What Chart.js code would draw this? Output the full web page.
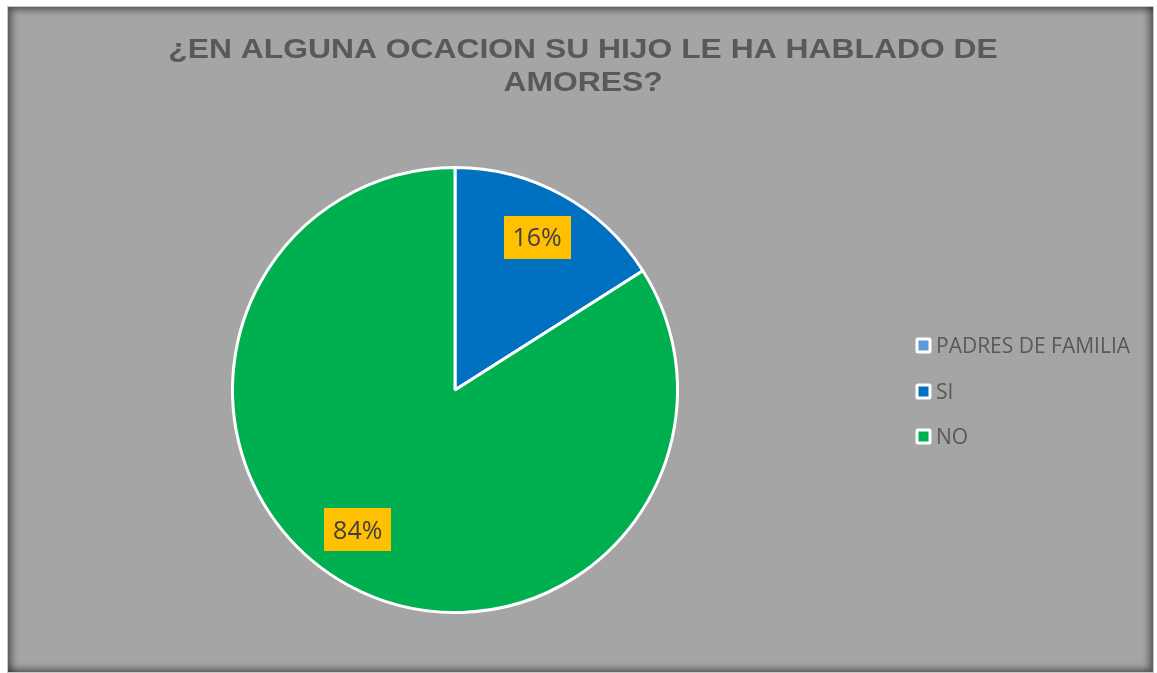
<!DOCTYPE html>
<html>
<head>
<meta charset="utf-8">
<script src="https://cdn.jsdelivr.net/npm/chart.js@4.4.0/dist/chart.umd.min.js"></script>
<style>
  html, body { margin: 0; padding: 0; background: #ffffff; width: 1157px; height: 673px; overflow: hidden; }
  #frame { position: absolute; left: 7px; top: 6px; width: 1145px; height: 665px;
    background: #a5a5a5; border: 1px solid #c8c8c8;
    box-shadow: inset 4px 3px 7px rgba(0,0,0,0.45), inset -4px -3px 7px rgba(0,0,0,0.45); }
  #c { position: absolute; left: 0; top: 0; }
</style>
</head>
<body>
<div id="frame"></div>
<canvas id="c" width="1157" height="673"></canvas>
<script>
const titleLines = ["¿EN ALGUNA OCACION SU HIJO LE HA HABLADO DE", "AMORES?"];
const categories = ["PADRES DE FAMILIA", "SI", "NO"];
const values = [0, 16, 84];
const sliceColors = ["#5b9bd5", "#0070c0", "#00b050"];

// label placement within each slice: fraction along the arc, fraction of radius
const labelArcFrac = [0.5, 0.49, 0.52];
const labelRadFrac = [0.78, 0.78, 0.765];

const overlay = {
  id: 'overlay',
  afterDatasetsDraw(chart) {
    const ctx = chart.ctx;
    const meta = chart.getDatasetMeta(0);
    const total = values.reduce((a, b) => a + b, 0);
    meta.data.forEach((arc, i) => {
      if (!values[i]) return;
      const ang = arc.startAngle + (arc.endAngle - arc.startAngle) * labelArcFrac[i];
      const r = arc.outerRadius * labelRadFrac[i];
      const x = arc.x + Math.cos(ang) * r;
      const y = arc.y + Math.sin(ang) * r;
      const txt = Math.round(values[i] / total * 100) + '%';
      ctx.save();
      ctx.fillStyle = '#ffc000';
      ctx.fillRect(Math.round(x - 33.5), Math.round(y - 21.5), 67, 43);
      ctx.font = '25px "Open Sans"';
      ctx.fillStyle = '#404040';
      ctx.textAlign = 'center';
      ctx.textBaseline = 'alphabetic';
      ctx.fillText(txt, x, y + 9);
      ctx.restore();
    });
  },
  afterDraw(chart) {
    const ctx = chart.ctx;
    ctx.save();
    // title (slightly widened bold face)
    ctx.font = 'bold 28px "Liberation Sans"';
    ctx.fillStyle = '#595959';
    ctx.textAlign = 'center';
    ctx.textBaseline = 'alphabetic';
    const sx = 1.137;
    titleLines.forEach((t, i) => {
      ctx.save();
      ctx.translate(583, 57.5 + i * 33);
      ctx.scale(sx, 1);
      ctx.fillText(t, 0, 0);
      ctx.restore();
    });
    // legend
    const ys = [345, 391, 436];
    categories.forEach((c, i) => {
      const y = ys[i];
      ctx.fillStyle = '#ffffff';
      ctx.beginPath();
      if (ctx.roundRect) ctx.roundRect(915.5, y - 7.5, 16, 16, 2.5); else ctx.rect(915.5, y - 7.5, 16, 16);
      ctx.fill();
      ctx.fillStyle = sliceColors[i];
      ctx.fillRect(918.5, y - 4.5, 10, 10);
      ctx.font = '21px "Open Sans"';
      ctx.fillStyle = '#595959';
      ctx.textAlign = 'left';
      ctx.textBaseline = 'alphabetic';
      ctx.fillText(c, 936, y + 7.5);
    });
    ctx.restore();
  }
};

new Chart(document.getElementById('c'), {
  type: 'pie',
  data: {
    labels: categories,
    datasets: [{
      data: values,
      backgroundColor: sliceColors,
      borderColor: '#ffffff',
      borderWidth: 3
    }]
  },
  options: {
    responsive: false,
    animation: false,
    layout: { padding: { left: 231, right: 478, top: 166, bottom: 59 } },
    plugins: {
      legend: { display: false },
      title: { display: false },
      tooltip: { enabled: false }
    }
  },
  plugins: [overlay]
});
</script>
</body>
</html>
